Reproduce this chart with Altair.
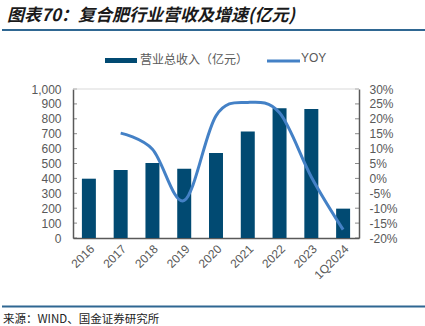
import altair as alt
import pandas as pd

years = ["2016", "2017", "2018", "2019", "2020", "2021", "2022", "2023", "1Q2024"]
revenue = [398, 456, 503, 465, 570, 715, 870, 866, 197]
yoy_years = ["2017", "2018", "2019", "2020", "2021", "2022", "2023", "1Q2024"]
yoy = [15.2, 9.8, -7.4, 21.0, 25.5, 22.0, 0.5, -17.2]
left_ticks = list(range(0, 1001, 100))
right_ticks = list(range(-20, 31, 5))

title_text = "图表70：复合肥行业营收及增速(亿元)"
source_text = "来源：WIND、国金证券研究所"
legend_bar = "营业总收入（亿元）"
legend_line = "YOY"

BAR = "#014a72"
LINE = "#4481c6"
GRAY = "#595959"
FONT = "Liberation Sans"
CJK = "Noto Sans CJK SC"

df_bar = pd.DataFrame({"year": years, "rev": revenue})
df_line = pd.DataFrame({"year": yoy_years, "yoy": yoy})

xscale = alt.Scale(domain=years, paddingInner=0.56, paddingOuter=0.28)
xenc = alt.X("year:N", scale=xscale, sort=years, title=None,
             axis=alt.Axis(labelAngle=-45, labelFontSize=12, labelFont=FONT,
                           labelColor=GRAY, domainColor=GRAY, domainWidth=1.5,
                           ticks=False, labelPadding=5))

bars = alt.Chart(df_bar).mark_bar(color=BAR).encode(
    x=xenc,
    y=alt.Y("rev:Q", scale=alt.Scale(domain=[0, 1000]), title=None,
            axis=alt.Axis(orient="left", values=left_ticks, format=",d",
                          labelFontSize=12, labelFont=FONT, labelColor=GRAY,
                          domainColor=GRAY, domainWidth=1.5, ticks=False,
                          labelPadding=12, grid=False)),
)

lticks = alt.Chart(pd.DataFrame({"v": left_ticks})).mark_tick(
    color=GRAY, size=4, thickness=1, orient="horizontal").encode(
    y=alt.Y("v:Q", scale=alt.Scale(domain=[0, 1000]), axis=None),
    x=alt.value(2),
)

line = alt.Chart(df_line).mark_line(color=LINE, strokeWidth=3, interpolate="cardinal").encode(
    x=alt.X("year:N", scale=xscale, sort=years),
    y=alt.Y("yoy:Q", scale=alt.Scale(domain=[-20, 30]), title=None,
            axis=alt.Axis(orient="right", values=right_ticks,
                          labelExpr="datum.value + '%'",
                          labelFontSize=12, labelFont=FONT, labelColor=GRAY,
                          domainColor=GRAY, domainWidth=1.5, ticks=False,
                          labelPadding=10, grid=False)),
)

rticks = alt.Chart(pd.DataFrame({"v": right_ticks})).mark_tick(
    color=GRAY, size=4, thickness=1, orient="horizontal").encode(
    y=alt.Y("v:Q", scale=alt.Scale(domain=[-20, 30]), axis=None),
    x=alt.value(284),
)

toprule = alt.Chart(pd.DataFrame({"a": [0]})).mark_rule(color="#d9d9d9", strokeWidth=1).encode(
    x=alt.value(0), x2=alt.value(286), y=alt.value(0))

title = alt.Chart(pd.DataFrame({"t": [title_text]})).mark_text(
    align="left", baseline="middle", fontSize=17, font=CJK, fontWeight="bold",
    fontStyle="italic", color="#1a1a1a").encode(
    text="t:N", x=alt.value(-66), y=alt.value(-73))

title_rule = alt.Chart(pd.DataFrame({"a": [0]})).mark_rule(color="#2f6792", strokeWidth=2).encode(
    x=alt.value(-71), x2=alt.value(352), y=alt.value(-59))

foot_rule = alt.Chart(pd.DataFrame({"a": [0]})).mark_rule(color="#2f6792", strokeWidth=2).encode(
    x=alt.value(-71), x2=alt.value(352), y=alt.value(217.5))

foot = alt.Chart(pd.DataFrame({"t": [source_text]})).mark_text(
    align="left", baseline="middle", fontSize=11.5, font=CJK, color="#222222").encode(
    text="t:N", x=alt.value(-70), y=alt.value(231))

leg_rect = alt.Chart(pd.DataFrame({"a": [0]})).mark_rect(color=BAR).encode(
    x=alt.value(32), x2=alt.value(64), y=alt.value(-31), y2=alt.value(-26))
leg_t1 = alt.Chart(pd.DataFrame({"t": [legend_bar]})).mark_text(
    align="left", baseline="middle", fontSize=12, font=CJK, color=GRAY).encode(
    text="t:N", x=alt.value(67), y=alt.value(-29))
leg_line = alt.Chart(pd.DataFrame({"a": [0]})).mark_rule(color=LINE, strokeWidth=3).encode(
    x=alt.value(194), x2=alt.value(227), y=alt.value(-28))
leg_t2 = alt.Chart(pd.DataFrame({"t": [legend_line]})).mark_text(
    align="left", baseline="middle", fontSize=12, font=FONT, color=GRAY).encode(
    text="t:N", x=alt.value(228), y=alt.value(-31))

chart = alt.layer(
    bars, lticks, line, rticks, toprule, title, title_rule, foot_rule, foot,
    leg_rect, leg_t1, leg_line, leg_t2
).resolve_scale(y="independent").properties(
    width=286, height=149,
    autosize=alt.AutoSizeParams(type="none"),
    padding={"left": 73, "top": 89, "right": 66, "bottom": 88},
    background="white",
).configure_view(stroke=None)

chart.save("out.html", embed_options={"renderer": "svg", "actions": False})
